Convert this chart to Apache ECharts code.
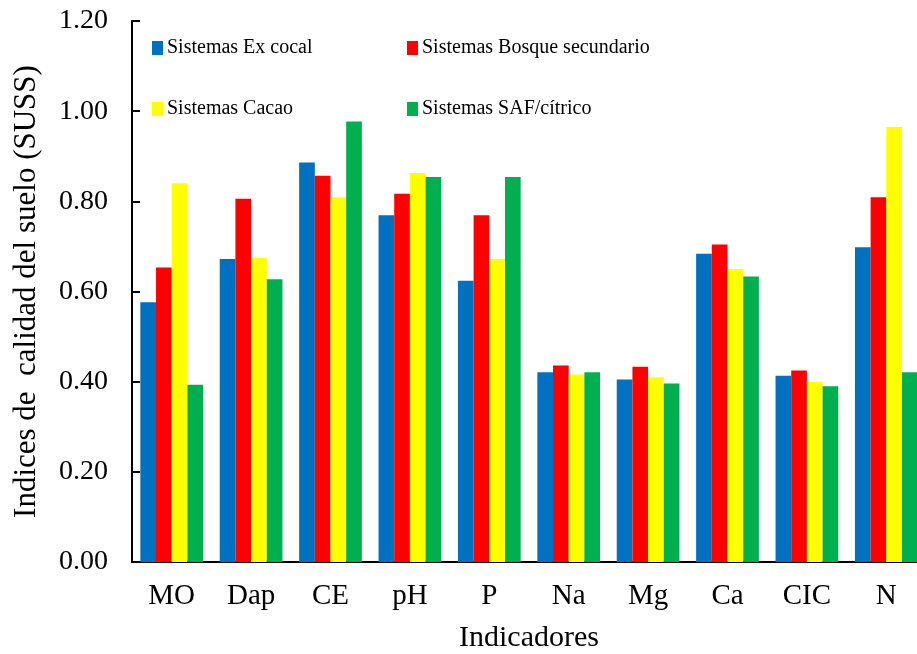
<!DOCTYPE html>
<html><head><meta charset="utf-8">
<script src="https://cdn.jsdelivr.net/npm/echarts@6/dist/echarts.min.js"></script>
<style>html,body{margin:0;padding:0;background:#fff}#c{width:917px;height:654px}</style>
</head><body><div id="c"></div>
<script>
var categories = ['MO','Dap','CE','pH','P','Na','Mg','Ca','CIC','N'];
var exCocal = [0.576,0.672,0.886,0.769,0.624,0.421,0.405,0.684,0.413,0.698];
var bosqueSecundario = [0.653,0.806,0.857,0.817,0.769,0.436,0.433,0.704,0.425,0.809];
var cacao = [0.840,0.675,0.809,0.863,0.672,0.416,0.410,0.650,0.399,0.965];
var safCitrico = [0.393,0.627,0.977,0.854,0.854,0.421,0.396,0.633,0.390,0.421];
var seriesNames = ['Sistemas Ex cocal','Sistemas Bosque secundario','Sistemas Cacao','Sistemas SAF/cítrico'];
var colors = ['#0070C0','#FF0000','#FFFF00','#00B050'];
var yTicks = [0,0.2,0.4,0.6,0.8,1.0,1.2];

var font = 'Liberation Serif, Times New Roman, serif';
var chart = echarts.init(document.getElementById('c'), null, {renderer:'canvas'});
var dataSets = [exCocal, bosqueSecundario, cacao, safCitrico];
var legendPos = [[152,38],[407,38],[152,99],[407,99]];
var legends = seriesNames.map(function(n,i){
  return {data:[n], left:legendPos[i][0], top:legendPos[i][1], padding:0,
    itemWidth:11, itemHeight:14, icon:'rect', itemGap:0,
    textStyle:{fontFamily:font, fontSize:20, color:'#000', padding:[0,0,0,-1]}};
});
chart.setOption({
  animation:false,
  backgroundColor:'#fff',
  legend: legends,
  grid:{left:132, right:-9, top:21, bottom:92, containLabel:false, outerBoundsMode:'none'},
  xAxis:{type:'category', data:categories,
    axisLine:{lineStyle:{color:'#000', width:2}}, axisTick:{show:false},
    axisLabel:{fontFamily:font, fontSize:29, color:'#000', margin:20},
    name:'Indicadores', nameLocation:'middle', nameGap:61,
    nameTextStyle:{fontFamily:font, fontSize:30, color:'#000'}},
  yAxis:{type:'value', min:0, max:1.2, interval:0.2,
    axisLine:{show:true, lineStyle:{color:'#000', width:2}},
    axisTick:{show:true, inside:true, length:8, lineStyle:{color:'#000', width:2}},
    splitLine:{show:false},
    axisLabel:{fontFamily:font, fontSize:28, color:'#000', margin:24,
      formatter:function(v){return v.toFixed(2);}},
    name:'Indices de  calidad del suelo (SUSS)', nameLocation:'middle', nameGap:90,
    nameTextStyle:{fontFamily:font, fontSize:31, color:'#000'}},
  series: dataSets.map(function(d,i){
    return {name:seriesNames[i], type:'bar', data:d, barGap:'0%', barCategoryGap:'21%',
      itemStyle:{color:colors[i]}};
  })
});
</script></body></html>
